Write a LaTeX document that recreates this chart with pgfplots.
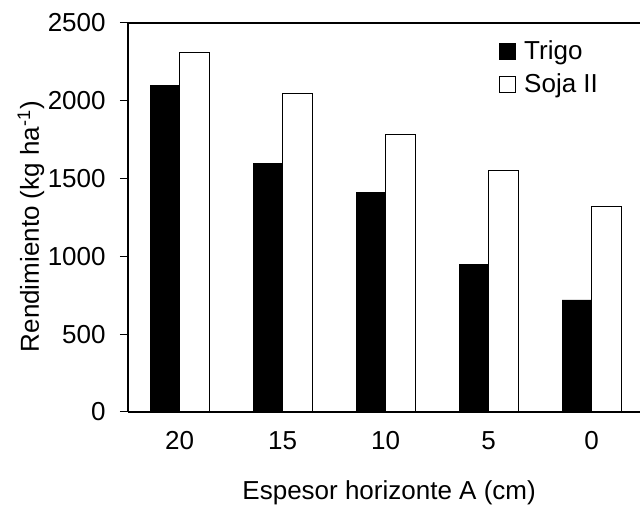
\documentclass[border=0pt]{standalone}
\usepackage{fontspec}
\setmainfont{Liberation Sans}
\usepackage{pgfplots}
\pgfplotsset{compat=1.18}

\begin{document}
\begin{tikzpicture}
\begin{axis}[
    scale only axis,
    width=256pt, height=194.5pt,
    ybar,
    bar width=0.286,
    xmin=-0.5, xmax=4.47,
    ymin=0, ymax=2500,
    ytick={0,500,1000,1500,2000,2500},
    xtick={0,1,2,3,4},
    xticklabels={20,15,10,5,0},
    axis on top,
    axis x line*=bottom,
    axis y line*=left,
    axis line style={-, line width=0.9pt},
    tick align=outside,
    major tick length=4pt,
    xtick style={draw=none},
    ytick style={line width=0.5pt, black},
    /pgf/number format/assume math mode=true,
    /pgf/number format/1000 sep={},
    ticklabel style={font=\fontsize{13}{15}\selectfont},
    xticklabel style={anchor=center, yshift=-10.5pt},
    yticklabel style={anchor=east, inner sep=0pt, xshift=-7pt},
    xlabel={Espesor horizonte A (cm)},
    ylabel={Rendimiento (kg ha\textsuperscript{-1})},
    xlabel style={font=\fontsize{13}{15}\selectfont, at={(rel axis cs:0.51,0)}, anchor=center, yshift=-40.5pt},
    ylabel style={font=\fontsize{13}{15}\selectfont, at={(rel axis cs:0,0.5)}, anchor=center, yshift=48.5pt, xshift=-4.5pt},
    legend image code/.code={\draw[#1] (0pt,-4pt) rectangle (8pt,4pt);},
    legend style={at={(rel axis cs:0.7246,0.956)}, anchor=north west, draw=none, fill=none,
        inner sep=0pt, row sep=5.5pt, font=\fontsize{13}{15}\selectfont,
        nodes={inner sep=0pt}, column sep=4pt},
    legend cell align=left,
]
\addplot[bar shift=-0.143, fill=black, draw=black, line width=0.4pt]
    coordinates {(0,2100) (1,1600) (2,1410) (3,950) (4,720)};
\addlegendentry{Trigo}
\addplot[bar shift=0.143, fill=white, draw=black, line width=0.4pt]
    coordinates {(0,2310) (1,2050) (2,1785) (3,1550) (4,1320)};
\addlegendentry{Soja II}
\draw[line width=0.9pt] (rel axis cs:0,1) -- (rel axis cs:1,1);
\coordinate (bl) at (rel axis cs:0,0);
\coordinate (tr) at (rel axis cs:1,1);
\end{axis}
\pgfresetboundingbox
\useasboundingbox ([xshift=-64pt,yshift=-47pt]bl) rectangle ([yshift=11.5pt]tr);
\end{tikzpicture}
\end{document}
